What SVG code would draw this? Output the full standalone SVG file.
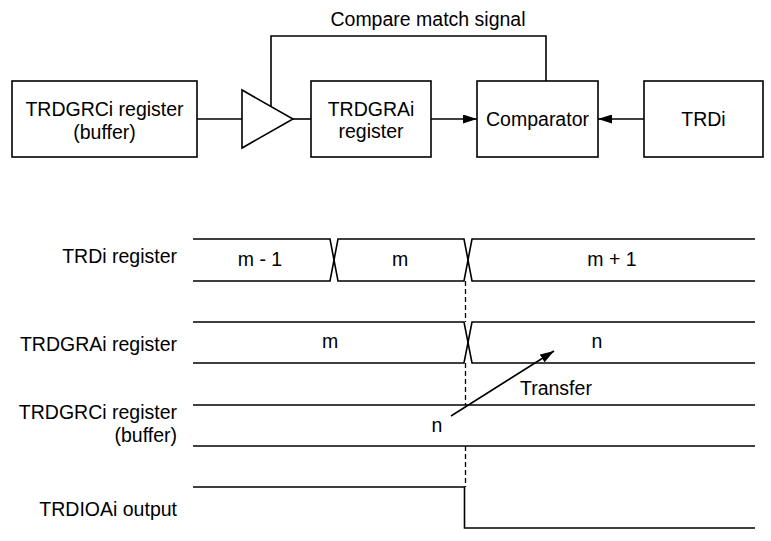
<svg xmlns="http://www.w3.org/2000/svg" width="771" height="541" viewBox="0 0 771 541">
<style>
text{font-family:"Liberation Sans",Arial,sans-serif;font-size:19.5px;fill:#000}
.c{text-anchor:middle}
.e{text-anchor:end}
.box{fill:#fff;stroke:#000;stroke-width:1.6}
.ln{fill:none;stroke:#000;stroke-width:1.6}
.dash{fill:none;stroke:#000;stroke-width:1.3;stroke-dasharray:5,3}
</style>
<defs>
<marker id="ah" viewBox="0 0 14 9" refX="14" refY="4.5" markerWidth="14" markerHeight="9" markerUnits="userSpaceOnUse" orient="auto">
<path d="M0,0 L14,4.5 L0,9 Z" fill="#000"/>
</marker>
</defs>
<rect width="771" height="541" fill="#fff"/>
<text class="c" x="428" y="26">Compare match signal</text>
<g id="connectors">
<line class="ln" x1="197" y1="119" x2="242" y2="119"/>
<line class="ln" x1="293" y1="119" x2="311" y2="119"/>
<polyline class="ln" points="271,106 271,36 546,36 546,81"/>
<line class="ln" x1="431" y1="119" x2="477" y2="119" marker-end="url(#ah)"/>
<line class="ln" x1="644" y1="119" x2="598" y2="119" marker-end="url(#ah)"/>
</g>
<g id="trdgrc">
<rect class="box" x="12" y="81" width="185" height="76"/>
<text class="c" x="104.5" y="116">TRDGRCi register</text>
<text class="c" x="104.5" y="139">(buffer)</text>
</g>
<g id="buffer">
<polygon class="box" points="242,90 242,148 293,119"/>
</g>
<g id="trdgra">
<rect class="box" x="311" y="81" width="120" height="76"/>
<text class="c" x="371" y="116">TRDGRAi</text>
<text class="c" x="371" y="138">register</text>
</g>
<g id="comparator">
<rect class="box" x="477" y="81" width="121" height="76"/>
<text class="c" x="537.5" y="126">Comparator</text>
</g>
<g id="trdi">
<rect class="box" x="644" y="81" width="119" height="76"/>
<text class="c" x="703.5" y="126">TRDi</text>
</g>
<g id="labels">
<text class="e" x="177" y="263">TRDi register</text>
<text class="e" x="177" y="351">TRDGRAi register</text>
<text class="e" x="177" y="419">TRDGRCi register</text>
<text class="e" x="177" y="442">(buffer)</text>
<text class="e" x="177" y="516">TRDIOAi output</text>
</g>
<g id="waveforms">
<path class="ln" d="M193,239 H330 L338,281 H464 L472,239 H755"/>
<path class="ln" d="M193,281 H330 L338,239 H464 L472,281 H755"/>
<path class="ln" d="M193,322 H464 L472,363 H755"/>
<path class="ln" d="M193,363 H464 L472,322 H755"/>
<line class="ln" x1="193" y1="405" x2="755" y2="405"/>
<line class="ln" x1="193" y1="446" x2="755" y2="446"/>
<path class="ln" d="M193,487 H464.5 V528 H755"/>
<line class="dash" x1="465.5" y1="281" x2="465.5" y2="322"/>
<line class="dash" x1="465.5" y1="363" x2="465.5" y2="405"/>
<line class="dash" x1="465.5" y1="446" x2="465.5" y2="487"/>
<line class="ln" x1="451" y1="416" x2="554" y2="351" marker-end="url(#ah)"/>
<text class="c" x="260" y="266">m - 1</text>
<text class="c" x="400" y="266">m</text>
<text class="c" x="612" y="266">m + 1</text>
<text class="c" x="330" y="348">m</text>
<text class="c" x="597" y="348">n</text>
<text x="520" y="395">Transfer</text>
<text class="c" x="437" y="432">n</text>
</g>
</svg>
